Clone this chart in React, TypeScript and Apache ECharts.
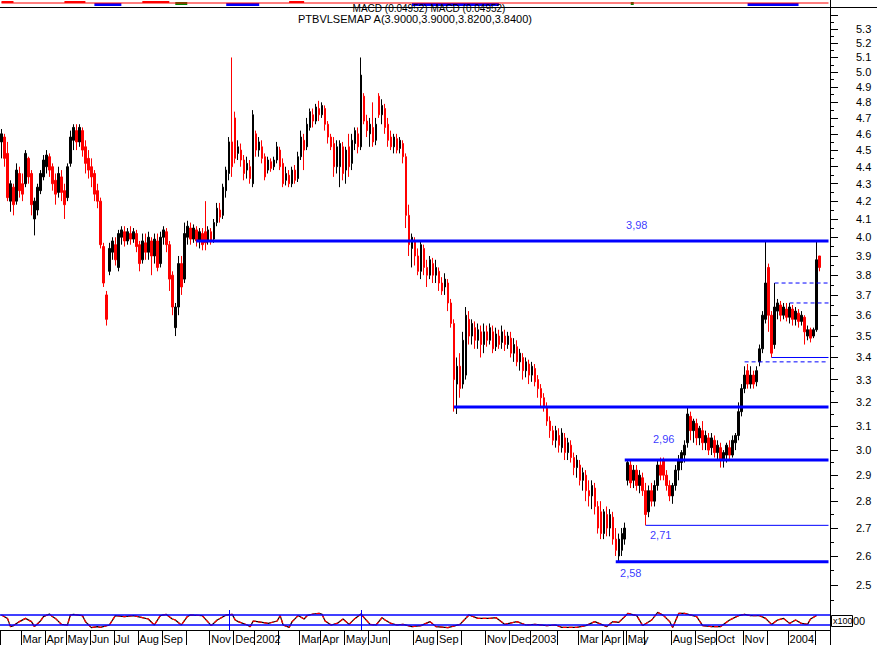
import React, { useEffect, useRef } from 'react';
import * as echarts from 'echarts';

// ---------- price data (one candle per slot) ----------
const openP = [
  4.55,4.58,4.48,4.20,4.28,4.20,4.36,4.30,4.30,4.45,
  4.36,4.10,4.15,4.26,4.34,4.40,4.46,4.40,4.32,4.25,
  4.34,4.26,4.22,4.42,4.56,4.62,4.55,4.62,4.52,4.45,
  4.40,4.36,4.26,4.20,3.95,3.70,3.82,3.92,3.96,3.84,
  4.00,4.03,3.98,4.02,3.99,4.02,3.96,3.88,3.97,3.92,
  3.98,3.90,3.98,3.86,4.00,4.03,3.96,3.80,3.54,3.64,
  3.86,3.78,4.00,4.05,3.99,4.04,3.98,4.02,4.03,3.98,
  4.03,3.99,4.08,4.15,4.12,4.26,4.36,4.55,4.70,4.48,
  4.50,4.44,4.38,4.40,4.30,4.60,4.50,4.52,4.46,4.38,
  4.43,4.40,4.44,4.50,4.42,4.32,4.35,4.30,4.38,4.33,
  4.46,4.56,4.52,4.64,4.72,4.68,4.76,4.72,4.76,4.66,
  4.58,4.54,4.40,4.40,4.52,4.38,4.52,4.42,4.54,4.60,
  4.52,4.84,4.68,4.60,4.64,4.56,4.84,4.72,4.76,4.66,
  4.58,4.52,4.57,4.51,4.54,4.46,4.12,3.94,3.98,3.90,
  3.82,3.94,3.84,3.80,3.86,3.80,3.82,3.76,3.74,3.76,
  3.66,3.56,3.28,3.36,3.28,3.32,3.58,3.50,3.54,3.48,
  3.52,3.46,3.52,3.48,3.52,3.45,3.50,3.47,3.50,3.46,
  3.49,3.42,3.45,3.38,3.40,3.34,3.37,3.32,3.35,3.30,
  3.26,3.22,3.18,3.12,3.08,3.04,3.06,3.01,3.05,2.99,
  3.02,2.97,2.93,2.94,2.88,2.90,2.84,2.82,2.85,2.78,
  2.76,2.68,2.75,2.70,2.74,2.66,2.60,2.62,2.66,2.88,
  2.94,2.88,2.92,2.86,2.89,2.84,2.76,2.84,2.80,2.86,
  2.94,2.96,2.90,2.86,2.82,2.86,2.92,2.95,2.98,3.03,
  3.14,3.08,3.11,3.05,3.08,3.03,3.05,3.01,3.04,2.99,
  3.01,2.96,2.98,3.01,2.98,3.03,3.06,3.16,3.26,3.34,
  3.28,3.32,3.29,3.38,3.44,3.58,3.84,3.60,3.46,3.62,
  3.65,3.60,3.63,3.59,3.63,3.58,3.61,3.57,3.59,3.50,
  3.53,3.50,3.53,3.90
];
const closeP = [
  4.60,4.45,4.22,4.30,4.18,4.38,4.26,4.24,4.48,4.34,
  4.18,4.20,4.28,4.36,4.44,4.47,4.38,4.30,4.24,4.36,
  4.25,4.18,4.40,4.58,4.64,4.55,4.64,4.50,4.42,4.38,
  4.34,4.24,4.20,3.96,3.76,3.58,3.94,3.98,3.88,4.02,
  4.04,3.98,4.03,3.99,4.03,3.95,3.86,3.98,3.92,4.00,
  3.90,3.99,3.84,4.00,4.04,3.96,3.78,3.64,3.64,3.86,
  3.74,4.02,4.06,3.99,4.05,3.98,4.03,3.96,3.97,4.04,
  3.98,4.08,4.16,4.11,4.28,4.38,4.55,4.40,4.45,4.52,
  4.44,4.36,4.42,4.33,4.72,4.50,4.55,4.45,4.34,4.44,
  4.39,4.44,4.52,4.40,4.30,4.36,4.30,4.38,4.32,4.46,
  4.58,4.50,4.66,4.74,4.68,4.77,4.72,4.78,4.66,4.58,
  4.52,4.40,4.52,4.54,4.36,4.50,4.40,4.56,4.62,4.52,
  4.98,4.68,4.62,4.66,4.55,4.66,4.72,4.78,4.64,4.56,
  4.52,4.58,4.50,4.56,4.46,4.12,3.96,4.00,3.90,3.82,
  3.96,3.84,3.80,3.88,3.80,3.84,3.76,3.72,3.78,3.66,
  3.56,3.30,3.36,3.26,3.48,3.60,3.50,3.56,3.48,3.53,
  3.46,3.52,3.48,3.54,3.44,3.51,3.46,3.52,3.46,3.50,
  3.42,3.46,3.38,3.42,3.34,3.38,3.32,3.36,3.29,3.26,
  3.22,3.18,3.12,3.08,3.04,3.08,3.02,3.07,2.99,3.03,
  2.97,2.93,2.96,2.88,2.91,2.84,2.82,2.86,2.78,2.70,
  2.68,2.76,2.70,2.75,2.66,2.62,2.66,2.68,2.70,2.95,
  2.87,2.92,2.86,2.90,2.84,2.75,2.84,2.80,2.86,2.94,
  2.90,2.90,2.86,2.82,2.86,2.92,2.96,2.99,3.02,3.15,
  3.08,3.12,3.05,3.09,3.03,3.06,3.00,3.05,2.99,3.02,
  2.96,2.99,3.02,2.98,3.04,3.06,3.16,3.26,3.32,3.28,
  3.32,3.28,3.34,3.44,3.60,3.76,3.60,3.42,3.64,3.66,
  3.60,3.64,3.59,3.64,3.58,3.62,3.57,3.60,3.52,3.53,
  3.49,3.53,3.88,3.84
];
const lowP = [
  4.45,4.40,4.20,4.14,4.12,4.18,4.22,4.20,4.28,4.30,
  4.12,4.01,4.12,4.24,4.32,4.36,4.34,4.26,4.18,4.22,
  4.20,4.10,4.20,4.40,4.50,4.50,4.52,4.46,4.36,4.33,
  4.28,4.20,4.16,3.94,3.74,3.55,3.80,3.88,3.85,3.82,
  3.96,3.95,3.96,3.96,3.97,3.92,3.82,3.86,3.88,3.88,
  3.80,3.86,3.82,3.84,3.96,3.92,3.72,3.60,3.50,3.60,
  3.70,3.76,3.96,3.96,3.97,3.95,3.94,3.93,3.93,3.96,
  3.96,3.97,4.06,4.08,4.10,4.22,4.32,4.34,4.42,4.44,
  4.40,4.32,4.33,4.30,4.28,4.46,4.46,4.42,4.32,4.36,
  4.37,4.38,4.42,4.38,4.28,4.29,4.28,4.28,4.30,4.31,
  4.44,4.38,4.50,4.62,4.64,4.66,4.68,4.70,4.62,4.54,
  4.50,4.34,4.36,4.28,4.32,4.30,4.34,4.38,4.50,4.48,
  4.50,4.66,4.58,4.52,4.52,4.53,4.70,4.66,4.60,4.52,
  4.50,4.48,4.48,4.48,4.42,4.05,3.90,3.84,3.85,3.80,
  3.78,3.80,3.74,3.78,3.76,3.76,3.72,3.70,3.70,3.62,
  3.54,3.16,3.15,3.22,3.26,3.30,3.46,3.46,3.44,3.44,
  3.40,3.42,3.45,3.46,3.42,3.43,3.44,3.44,3.43,3.44,
  3.40,3.38,3.36,3.34,3.30,3.31,3.28,3.29,3.27,3.22,
  3.18,3.16,3.10,3.05,3.02,3.01,2.99,2.99,2.96,2.96,
  2.95,2.90,2.89,2.86,2.84,2.80,2.78,2.77,2.75,2.68,
  2.66,2.66,2.67,2.67,2.64,2.60,2.58,2.60,2.64,2.86,
  2.85,2.85,2.84,2.83,2.82,2.71,2.74,2.78,2.78,2.84,
  2.88,2.88,2.84,2.80,2.79,2.84,2.88,2.92,2.95,3.01,
  3.04,3.03,3.02,3.02,3.00,3.00,2.98,2.98,2.97,2.96,
  2.93,2.93,2.95,2.96,2.97,3.00,3.04,3.14,3.24,3.26,
  3.26,3.26,3.27,3.36,3.42,3.56,3.52,3.40,3.44,3.58,
  3.57,3.58,3.57,3.56,3.55,3.55,3.54,3.55,3.46,3.48,
  3.47,3.49,3.52,3.82
];
const highP = [
  4.63,4.60,4.55,4.32,4.30,4.42,4.40,4.36,4.50,4.46,
  4.38,4.22,4.30,4.38,4.47,4.50,4.48,4.42,4.36,4.40,
  4.38,4.30,4.42,4.62,4.66,4.66,4.66,4.64,4.56,4.50,
  4.45,4.38,4.30,4.22,3.97,3.72,3.97,4.00,4.00,4.04,
  4.06,4.06,4.05,4.06,4.05,4.04,3.98,4.02,4.02,4.03,
  4.00,4.02,4.02,4.03,4.06,4.05,3.98,3.82,3.66,3.90,
  3.90,4.08,4.09,4.08,4.07,4.06,4.05,4.05,4.20,4.06,
  4.05,4.10,4.19,4.19,4.30,4.40,4.58,5.10,4.74,4.56,
  4.54,4.47,4.46,4.44,4.75,4.62,4.58,4.56,4.48,4.46,
  4.45,4.46,4.55,4.52,4.45,4.40,4.38,4.40,4.41,4.49,
  4.62,4.60,4.70,4.76,4.76,4.79,4.81,4.80,4.78,4.68,
  4.60,4.58,4.56,4.56,4.55,4.52,4.60,4.60,4.64,4.64,
  5.10,4.86,4.72,4.70,4.80,4.70,4.86,4.82,4.79,4.70,
  4.62,4.60,4.60,4.58,4.56,4.48,4.18,4.02,4.00,3.94,
  3.98,3.96,3.88,3.90,3.89,3.88,3.84,3.79,3.81,3.78,
  3.68,3.58,3.40,3.42,3.52,3.64,3.62,3.58,3.57,3.56,
  3.55,3.56,3.55,3.56,3.55,3.54,3.53,3.55,3.53,3.52,
  3.52,3.49,3.48,3.44,3.42,3.40,3.39,3.38,3.37,3.32,
  3.28,3.24,3.20,3.14,3.10,3.10,3.09,3.09,3.07,3.05,
  3.04,2.99,2.98,2.96,2.93,2.92,2.88,2.88,2.87,2.80,
  2.80,2.77,2.78,2.77,2.76,2.70,2.68,2.70,2.72,2.96,
  2.96,2.94,2.94,2.92,2.91,2.87,2.86,2.87,2.88,2.96,
  2.97,2.97,2.92,2.88,2.87,2.94,2.98,3.00,3.04,3.18,
  3.16,3.13,3.13,3.10,3.12,3.08,3.07,3.07,3.06,3.04,
  3.03,3.00,3.03,3.04,3.06,3.07,3.20,3.28,3.36,3.37,
  3.36,3.34,3.36,3.46,3.62,3.98,3.86,3.62,3.76,3.68,
  3.67,3.66,3.66,3.66,3.65,3.64,3.63,3.62,3.60,3.55,
  3.54,3.54,3.98,3.90
];
const trailingEmptySlots = 3;

// month boundaries: [slot index, label]
const monthTicks: [number, string][] = [
  [0, ''], [7, 'Mar'], [15, 'Apr'], [22, 'May'], [30, 'Jun'], [38, 'Jul'], [46, 'Aug'], [54, 'Sep'],
  [62, ''], [70, 'Nov'], [78, 'Dec'], [85, '2002'], [93, ''], [100, 'Mar'], [107, 'Apr'], [115, 'May'],
  [123, 'Jun'], [130, ''], [138, 'Aug'], [146, 'Sep'], [154, ''], [162, 'Nov'], [170, 'Dec'], [177, '2003'],
  [186, ''], [193, 'Mar'], [201, 'Apr'], [208, ''], [209, 'May'], [215, ''], [224, 'Aug'], [232, 'Sep'],
  [239, 'Oct'], [248, 'Nov'], [256, ''], [263, '2004'], [272, '']
];

// price axis tick values
const yLabelValues = [2.5,2.6,2.7,2.8,2.9,3.0,3.1,3.2,3.3,3.4,3.5,3.6,3.7,3.8,3.9,4.0,4.1,4.2,4.3,4.4,4.5,4.6,4.7,4.8,4.9,5.0,5.1,5.2,5.3];
const yMajorTickValues = [2.5,2.6,2.7,2.8,2.9,3.0,3.1,3.2,3.3,3.4,3.5,3.6,3.7,3.8,3.9,4.0,4.1,4.2,4.3,4.4,4.5,4.6,4.7,4.8,4.9,5.0,5.1,5.2,5.3,5.4];
const yMinorTickValues = [2.45,2.55,2.65,2.75,2.85,2.95,3.05,3.15,3.25,3.35,3.45,3.55,3.65,3.75,3.85,3.95,4.05,4.15,4.25,4.35,4.45,4.55,4.65,4.75,4.85,4.95,5.05,5.15,5.25,5.35];
const priceMin = 2.417;
const priceMax = 5.4527;

// support / resistance levels: [start slot, price]
const thickLevels: [number, number][] = [[65, 3.98], [151, 3.18], [208, 2.96], [205, 2.58]];
const thinLevels: [number, number][] = [[215, 2.71], [257, 3.40]];
const dashedLevels: [number, number][] = [[248, 3.38], [258, 3.76], [263, 3.66]];
const taggedLevels: [number, number][] = [[212, 3.98], [221, 2.96], [220, 2.71], [210, 2.58]];

// lower oscillator panel: [slot index, value]
const oscillator: [number, number][] = [
  [0,75],[2,58],[3,17],[4,22],[6,42],[8,58],[10,42],[11,17],[13,45],[14,67],[16,80],[17,67],[18,58],[20,28],
  [22,25],[23,75],[24,78],[27,72],[28,42],[30,12],[32,17],[33,13],[36,25],[38,72],[41,67],[44,72],[47,62],
  [49,55],[51,25],[53,72],[55,78],[57,55],[58,50],[60,25],[62,67],[63,75],[67,72],[70,22],[72,50],[75,75],
  [77,78],[78,50],[79,42],[82,25],[83,17],[84,45],[87,38],[89,33],[92,45],[93,72],[94,25],[96,13],[97,42],
  [99,72],[101,55],[102,72],[104,80],[106,83],[107,78],[108,45],[110,25],[112,33],[114,55],[116,28],[118,58],
  [120,80],[121,62],[123,28],[125,25],[127,62],[128,50],[130,33],[132,25],[134,28],[137,17],[140,22],[143,42],
  [145,17],[149,12],[153,28],[156,75],[159,58],[163,58],[165,62],[168,28],[172,42],[175,25],[178,28],[182,22],
  [185,25],[187,13],[192,13],[195,22],[198,42],[202,17],[204,42],[206,38],[208,67],[209,83],[212,72],[214,22],
  [217,50],[219,88],[221,72],[223,42],[224,12],[226,83],[228,83],[232,67],[234,22],[237,17],[240,17],[243,50],
  [246,72],[248,78],[250,72],[253,72],[255,58],[257,28],[259,50],[261,58],[263,33],[265,50],[267,33],[269,28],
  [270,55],[272,72]
];
const oscBands = [75, 25];
const oscMarkers = [76, 120];

// top MACD strip: zero line and colored ranges [from slot, to slot]
const macdZero = 4;
const macdBlueRanges: [number, number][] = [[31, 40], [75, 86], [137, 166], [249, 266]];
const macdRedRanges: [number, number][] = [[0, 4], [21, 28], [47, 56], [96, 101]];
const macdGreenRanges: [number, number][] = [[58, 62], [210, 211]];

const FONT = 'Arial, "Liberation Sans", Helvetica, sans-serif';
const BLUE = '#0000ff';
const RED = '#ff0000';

function buildOption() {
  const categories = Array.from({ length: openP.length + trailingEmptySlots }, (_, i) => String(i));
  const lastSlot = categories.length - 1;
  const tickMap = new Map<number, string>(monthTicks);
  const candles = openP.map((o, i) => [o, closeP[i], lowP[i], highP[i]]);

  const levelSeries = (lv: [number, number], width: number, type: any) => ({
    type: 'line', xAxisIndex: 0, yAxisIndex: 0, symbol: 'none', silent: true, z: 4,
    data: [[lv[0], lv[1]], [lastSlot, lv[1]]],
    lineStyle: { color: BLUE, width, type },
    itemStyle: { color: BLUE },
  });

  const tagStyles = [
    { position: 'top', distance: 10 },
    { position: 'top', distance: 15 },
    { position: 'bottom', distance: 4 },
    { position: 'bottom', distance: 5 },
  ];

  return {
    animation: false,
    backgroundColor: '#ffffff',
    grid: [
      { left: 0, right: 47, top: 8, height: 602 },
      { left: 0, right: 47, top: 610, height: 20 },
      { left: 0, right: 47, top: 0, height: 7 },
    ],
    xAxis: [
      { type: 'category', gridIndex: 0, data: categories, show: false, boundaryGap: true },
      {
        type: 'category', gridIndex: 1, data: categories, boundaryGap: true,
        axisLine: { show: true, lineStyle: { color: '#000', width: 1 } },
        axisTick: { show: true, length: 15, interval: (i: number) => tickMap.has(i), lineStyle: { color: '#000', width: 1 } },
        axisLabel: {
          interval: (i: number) => !!tickMap.get(i),
          formatter: (v: string) => tickMap.get(Number(v)) || '',
          align: 'left', margin: 3, fontSize: 11, color: '#000', fontFamily: FONT,
        },
        splitLine: { show: false },
      },
      { type: 'category', gridIndex: 2, data: categories, show: false, boundaryGap: true },
    ],
    yAxis: [
      {
        type: 'log', gridIndex: 0, position: 'right', min: priceMin, max: priceMax,
        axisLine: { show: true, lineStyle: { color: '#000', width: 1 } },
        axisTick: { show: true, inside: false, length: 8, customValues: yMajorTickValues, lineStyle: { color: '#000' } },
        axisLabel: {
          show: true, customValues: yLabelValues, formatter: (v: number) => v.toFixed(1),
          margin: 26, align: 'left', fontSize: 11, color: '#000', fontFamily: FONT,
        },
        splitLine: { show: false },
      },
      {
        type: 'log', gridIndex: 0, position: 'right', min: priceMin, max: priceMax,
        axisLine: { show: false },
        axisTick: { show: true, inside: false, length: 4, customValues: yMinorTickValues, lineStyle: { color: '#000' } },
        axisLabel: { show: false },
        splitLine: { show: false },
      },
      {
        type: 'value', gridIndex: 1, position: 'right', min: 0, max: 100,
        axisLine: { show: true, lineStyle: { color: '#000' } },
        axisTick: { show: false }, axisLabel: { show: false }, splitLine: { show: false },
      },
      {
        type: 'value', gridIndex: 2, position: 'right', min: 0, max: 7,
        axisLine: { show: true, lineStyle: { color: '#000' } },
        axisTick: { show: false }, axisLabel: { show: false }, splitLine: { show: false },
      },
    ],
    series: [
      {
        type: 'candlestick', xAxisIndex: 0, yAxisIndex: 0, data: candles, z: 2,
        barWidth: 2,
        itemStyle: { color: '#000000', color0: RED, borderColor: '#000000', borderColor0: RED, borderWidth: 1 },
      },
      ...thickLevels.map((lv) => levelSeries(lv, 3, 'solid')),
      ...thinLevels.map((lv) => levelSeries(lv, 1, 'solid')),
      ...dashedLevels.map((lv) => levelSeries(lv, 1, [4, 3])),
      {
        type: 'scatter', xAxisIndex: 0, yAxisIndex: 0, symbolSize: 1, silent: true, z: 5,
        itemStyle: { color: 'rgba(0,0,0,0)' },
        data: taggedLevels.map((t, i) => ({
          value: [t[0], t[1]],
          label: {
            show: true, ...tagStyles[i],
            formatter: t[1].toFixed(2).replace('.', ','),
            color: BLUE, fontSize: 11, fontFamily: FONT,
          },
        })),
      },
      {
        type: 'line', xAxisIndex: 1, yAxisIndex: 2, data: oscillator, symbol: 'none',
        lineStyle: { color: '#000', width: 1.2 },
        markLine: {
          silent: true, symbol: ['none', 'none'], label: { show: false },
          lineStyle: { color: BLUE, width: 1.5, type: 'solid' },
          data: [
            ...oscBands.map((v) => ({ yAxis: v })),
            ...oscMarkers.map((x) => ({ xAxis: x, lineStyle: { width: 1, color: BLUE } })),
          ],
        },
      },
      {
        type: 'line', xAxisIndex: 1, yAxisIndex: 2, data: oscillator, symbol: 'none',
        lineStyle: { color: RED, width: 1.2, type: [4, 2] },
      },
      {
        type: 'line', xAxisIndex: 2, yAxisIndex: 3, symbol: 'none',
        data: [[0, macdZero], [lastSlot, macdZero]],
        lineStyle: { color: RED, width: 1 },
        markArea: {
          silent: true,
          data: [
            ...macdBlueRanges.map((r) => [{ xAxis: r[0], yAxis: 1, itemStyle: { color: BLUE } }, { xAxis: r[1], yAxis: 4 }]),
            ...macdRedRanges.map((r) => [{ xAxis: r[0], yAxis: 4, itemStyle: { color: RED } }, { xAxis: r[1], yAxis: 6 }]),
            ...macdGreenRanges.map((r) => [{ xAxis: r[0], yAxis: 2, itemStyle: { color: '#008000' } }, { xAxis: r[1], yAxis: 5 }]),
          ],
        },
      },
    ],
    graphic: [
      { type: 'line', z: 50, shape: { x1: 0, y1: 7.5, x2: 877, y2: 7.5 }, style: { stroke: '#000', lineWidth: 1 } },
      { type: 'line', z: 50, shape: { x1: 830.5, y1: 630, x2: 830.5, y2: 645 }, style: { stroke: '#000', lineWidth: 1 } },
      {
        type: 'text', z: 60, x: 429, y: 8,
        style: { text: 'MACD (0.04952) MACD (0.04952)', fill: '#000', font: `10px ${FONT}`, lineHeight: 9, textAlign: 'center', textVerticalAlign: 'middle' },
      },
      {
        type: 'text', z: 60, x: 415, y: 18.5,
        style: { text: 'PTBVLSEMAP A(3.9000,3.9000,3.8200,3.8400)', fill: '#000', font: `11px ${FONT}`, lineHeight: 10, textAlign: 'center', textVerticalAlign: 'middle' },
      },
      { type: 'rect', z: 60, shape: { x: 831.5, y: 615.5, width: 21, height: 11 }, style: { fill: '#fff', stroke: '#000', lineWidth: 1 } },
      { type: 'text', z: 61, x: 833, y: 621, style: { text: 'x100', fill: '#000', font: `9px ${FONT}`, textVerticalAlign: 'middle' } },
      { type: 'text', z: 61, x: 853, y: 621, style: { text: '00', fill: '#000', font: `11px ${FONT}`, textVerticalAlign: 'middle' } },
    ],
  };
}

export default function App() {
  const ref = useRef<HTMLDivElement>(null);
  useEffect(() => {
    if (!ref.current) return;
    const chart = echarts.init(ref.current, undefined, { renderer: 'svg' });
    chart.setOption(buildOption() as any);
    return () => chart.dispose();
  }, []);
  return (
    <div
      ref={ref}
      style={{ position: 'absolute', left: 0, top: 0, width: 877, height: 645, background: '#fff' }}
    />
  );
}
